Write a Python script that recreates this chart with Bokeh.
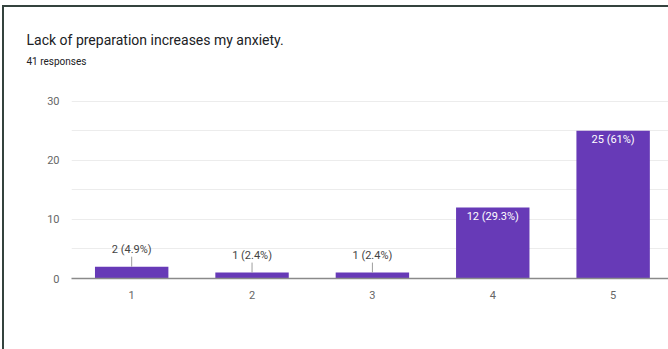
from bokeh.plotting import figure
from bokeh.layouts import column
from bokeh.models import Title, FixedTicker, ColumnDataSource
from bokeh.core.properties import value
from bokeh.embed import file_html
from bokeh.resources import INLINE

categories = [1, 2, 3, 4, 5]
counts = [2, 1, 1, 12, 25]
pct_labels = ["2 (4.9%)", "1 (2.4%)", "1 (2.4%)", "12 (29.3%)", "25 (61%)"]
title_text = "Lack of preparation increases my anxiety."
subtitle_text = "41 responses"
y_ticks = [0, 10, 20, 30]

PURPLE = "#673ab7"
FONT = "Roboto"

p = figure(width=664, height=342, output_backend="svg", toolbar_location=None, tools="",
           x_range=(0.5, 5.46), y_range=(0, 30.3),
           min_border_left=67, min_border_top=92, min_border_bottom=71, min_border_right=0)
p.toolbar.logo = None
p.outline_line_color = None
p.background_fill_color = "white"
p.border_fill_color = "white"

src = ColumnDataSource(dict(x=categories, top=counts, lab=pct_labels))
p.vbar(x="x", top="top", width=0.61, bottom=0, source=src, fill_color=PURPLE, line_color=None)

lead = 10 / 5.9
small = [i for i, c in enumerate(counts) if c < 5]
big = [i for i, c in enumerate(counts) if c >= 5]
p.segment(x0=[categories[i] for i in small], y0=[counts[i] for i in small],
          x1=[categories[i] for i in small], y1=[counts[i] + lead for i in small],
          line_color="#9e9e9e", line_width=1)
p.text(x=[categories[i] for i in small], y=[counts[i] for i in small],
       text=[pct_labels[i] for i in small], y_offset=-17,
       text_align="center", text_baseline="middle", text_font_size="11px",
       text_color="#444444", text_font=value(FONT))
p.text(x=[categories[i] for i in big], y=[counts[i] for i in big],
       text=[pct_labels[i] for i in big], y_offset=9,
       text_align="center", text_baseline="middle", text_font_size="11px",
       text_color="white", text_font=value(FONT))

p.xaxis.ticker = FixedTicker(ticks=categories)
p.yaxis.ticker = FixedTicker(ticks=y_ticks)
for ax in (p.xaxis, p.yaxis):
    ax.major_tick_line_color = None
    ax.minor_tick_line_color = None
    ax.major_tick_out = 0
    ax.minor_tick_out = 0
    ax.major_label_text_font = FONT
    ax.major_label_text_font_size = "11px"
    ax.major_label_text_color = "#666666"
p.yaxis.axis_line_color = None
p.yaxis.major_label_standoff = 12
p.xaxis.axis_line_color = "#8a8a8a"
p.xaxis.axis_line_width = 1.5
p.xaxis.major_label_standoff = 12
p.xgrid.grid_line_color = None
p.ygrid.ticker = FixedTicker(ticks=[5, 10, 15, 20, 25, 30])
p.ygrid.grid_line_color = "#ececec"

p.title.text = title_text
p.title.align = "left"
p.title.offset = -45
p.title.standoff = 7
p.title.text_font = FONT
p.title.text_font_size = "14px"
p.title.text_font_style = "normal"
p.title.text_color = "#202124"
# invisible spacer between subtitle and plot area
p.add_layout(Title(text="\u00a0", align="left", offset=-45, standoff=18,
                   text_font=FONT, text_font_size="10px", text_color="white"), "above")
p.add_layout(Title(text=subtitle_text, align="left", offset=-45, standoff=4,
                   text_font=FONT, text_font_size="10px", text_font_style="normal",
                   text_color="#202124"), "above")

layout = column(p, margin=(5, 0, 0, 2),
                styles={"border-top": "2px solid #34433e", "border-left": "2px solid #34433e"})

open("out.html", "w").write(file_html(layout, INLINE))
